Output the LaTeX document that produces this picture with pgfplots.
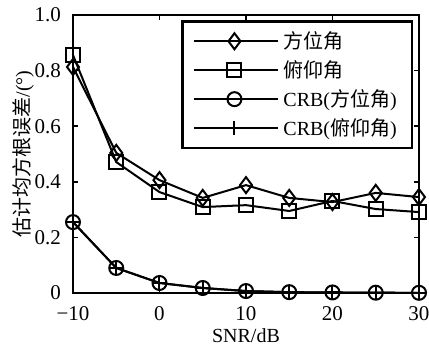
\documentclass[border=0pt]{standalone}
\usepackage{fontspec}
\setmainfont{Liberation Serif}
\newfontfamily\cjk{Noto Sans CJK SC}
\usepackage{pgfplots}
\pgfplotsset{compat=1.18}
\begin{document}
\begin{tikzpicture}
\begin{axis}[
  scale only axis, width=173pt, height=139pt,
  xmin=-10, xmax=30, ymin=0, ymax=1,
  xtick={-10,0,10,20,30}, xticklabels={−10,0,10,20,30},
  ytick={0,0.2,0.4,0.6,0.8,1.0}, yticklabels={0,0.2,0.4,0.6,0.8,1.0},
  tick align=inside, major tick length=2.5pt,
  tick style={line width=0.8pt, black},
  axis line style={line width=1.3pt},
  every axis/.append style={font=\fontsize{10}{12}\selectfont},
  ticklabel style={font=\fontsize{10.5}{12}\selectfont},
  xticklabel style={yshift=-3pt},
  yticklabel style={xshift=-2.5pt},
  xlabel={SNR/dB},
  ylabel={{\cjk 估计均方根误差}/(°)},
  xlabel style={yshift=2.5pt},
  ylabel style={yshift=-6.5pt},
  legend style={at={(0.983,0.982)}, anchor=north east, draw=black, line width=1.3pt,
    font=\fontsize{10}{12}\selectfont, row sep=0.5pt, inner xsep=5.5pt, inner ysep=3pt},
  legend cell align=left,
  legend image code/.code={\draw[mark repeat=2,mark phase=2] plot coordinates {(0pt,0pt) (17pt,0pt) (33.5pt,0pt)};\path (-3pt,0pt) -- (39pt,0pt);},
]
\addplot[black, line width=1pt, mark=diamond, mark size=4pt, mark options={fill=white, solid}] coordinates {
(-10,0.813) (-5,0.504) (0,0.406) (5,0.342) (10,0.388) (15,0.342) (20,0.327) (25,0.360) (30,0.345)};
\addlegendentry{\cjk 方位角}
\addplot[black, line width=1pt, mark=square, mark size=3.5pt, mark options={fill=white, solid}] coordinates {
(-10,0.856) (-5,0.471) (0,0.363) (5,0.309) (10,0.316) (15,0.295) (20,0.331) (25,0.302) (30,0.291)};
\addlegendentry{\cjk 俯仰角}
\addplot[black, line width=1pt, mark=o, mark size=3.5pt, mark options={fill=white, solid}] coordinates {
(-10,0.255) (-5,0.090) (0,0.036) (5,0.018) (10,0.007) (15,0.003) (20,0.002) (25,0.001) (30,0.0007)};
\addlegendentry{CRB({\cjk 方位角})}
\addplot[black, line width=1pt, mark=+, mark size=3.5pt, mark options={solid}] coordinates {
(-10,0.255) (-5,0.090) (0,0.036) (5,0.018) (10,0.007) (15,0.003) (20,0.002) (25,0.001) (30,0.0007)};
\addlegendentry{CRB({\cjk 俯仰角})}
\end{axis}
\pgfresetboundingbox
\path ([xshift=-36.5pt,yshift=-29pt]current axis.south west) rectangle ([xshift=5pt,yshift=7.5pt]current axis.north east);
\end{tikzpicture}
\end{document}
